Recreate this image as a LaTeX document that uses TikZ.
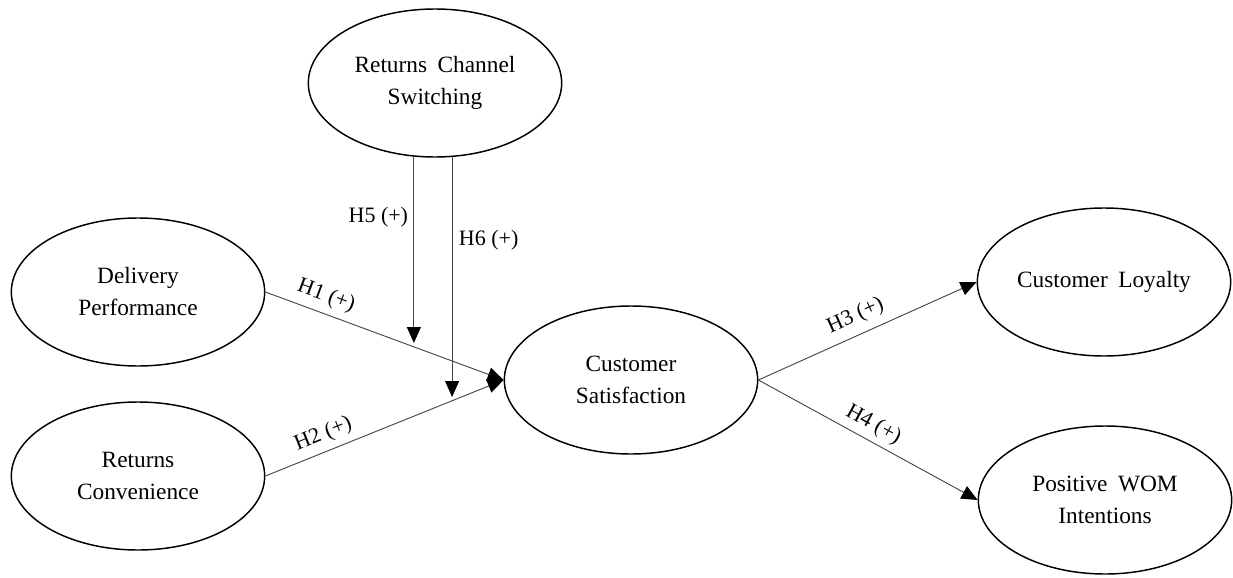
\documentclass[tikz,border=0pt]{standalone}
\usepackage{fontspec}
\setmainfont{Liberation Serif}
\usetikzlibrary{shapes.geometric,arrows.meta}
\begin{document}
\begin{tikzpicture}[x=0.75pt,y=-0.75pt,
  construct/.style={ellipse, draw=black, line width=1.1pt, minimum width=190pt, minimum height=111pt, inner sep=0pt, align=center, font=\fontsize{17.5}{24}\selectfont},
  link/.style={draw=black!72, line width=0.7pt, -{Triangle[length=12pt,width=10.5pt,color=black]}},
  hlabel/.style={font=\fontsize{16.5}{19}\selectfont, inner sep=2pt}
]
\useasboundingbox (0,0) rectangle (1233,578);
\node[construct] (rcs) at (435,83) {Returns\hspace{0.45em}Channel\\Switching};
\node[construct] (del) at (138,292) {Delivery\\Performance};
\node[construct] (rcv) at (138,476) {Returns\\Convenience};
\node[construct] (cs) at (631,380) {Customer\\Satisfaction};
\node[construct] (loy) at (1104,282) {Customer\hspace{0.45em}Loyalty};
\node[construct] (wom) at (1105,500) {Positive\hspace{0.45em}WOM\\Intentions};

\coordinate (h5end) at (414,343);
\coordinate (h6end) at (452,397);

\draw[link] (del.east) -- node[hlabel, sloped, above=3pt, pos=0.23] (h1) {H1 (+)} (cs.west);
\draw[link] (rcv.east) -- node[hlabel, sloped, above=3pt, pos=0.27] (h2) {H2 (+)} (cs.west);
\draw[link] (cs.east) -- node[hlabel, sloped, above=4pt, pos=0.48] (h3) {H3 (+)} (loy.west);
\draw[link] (cs.east) -- node[hlabel, sloped, above=2pt, pos=0.49] (h4) {H4 (+)} (wom.west);
\draw[link] (rcs.254) -- (rcs.254 |- h5end);
\draw[link] (rcs.283) -- (rcs.283 |- h6end);
\node[hlabel, anchor=east] (h5) at (411,217) {H5 (+)};
\node[hlabel, anchor=west] (h6) at (456,240) {H6 (+)};
\end{tikzpicture}
\end{document}
